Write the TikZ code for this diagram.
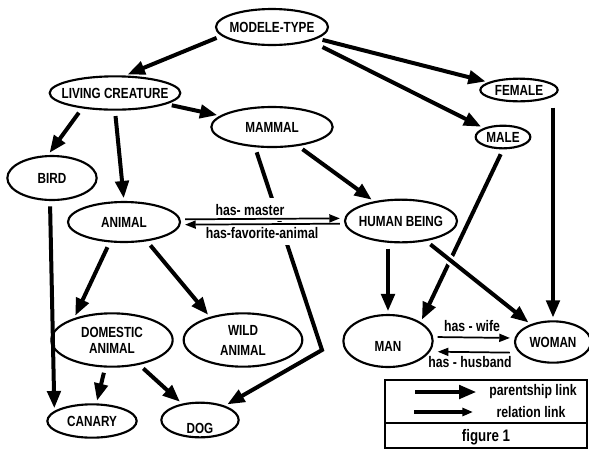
\documentclass[tikz,border=0pt]{standalone}
\usepackage{fontspec}
\setmainfont{Liberation Sans}[FakeStretch=0.8]
\usetikzlibrary{shapes,arrows.meta}
\tikzstyle{concept} = [ellipse, draw, line width=1.6pt, inner xsep=-8pt, inner ysep=0pt, align=center, font=\fontsize{11}{12}\bfseries]
\tikzstyle{parent} = [draw, line width=3pt, -{Triangle[length=13pt,width=10pt]}, shorten >=2pt, shorten <=4pt]
\tikzstyle{relation} = [draw, line width=1.3pt, -{Triangle[length=8pt,width=6pt]}, shorten >=3pt, shorten <=3pt]
\tikzstyle{tag} = [font=\fontsize{11.5}{13}\bfseries, inner sep=1pt]

\begin{document}
\begin{tikzpicture}[x=0.75pt, y=-0.75pt]
\useasboundingbox (0,0) rectangle (589,451);
					\node [concept, minimum width=84pt, minimum height=27pt] (modele) at (272,27) {MODELE-TYPE};
					\node [concept, minimum width=98pt, minimum height=25pt] (living) at (115,93) {LIVING CREATURE};
					\node [concept, minimum width=91pt, minimum height=30pt] (mammal) at (272,127) {MAMMAL};
					\node [concept, minimum width=58pt, minimum height=17pt] (female) at (519,90) {FEMALE};
					\node [concept, minimum width=41pt, minimum height=17pt] (male) at (503,137) {MALE};
					\node [concept, minimum width=67pt, minimum height=33pt] (bird) at (52,178) {BIRD};
					\node [concept, minimum width=84pt, minimum height=30pt] (animal) at (124,222) {ANIMAL};
					\node [concept, minimum width=84pt, minimum height=32pt] (human) at (401,221) {HUMAN BEING};
					\node [concept, minimum width=91pt, minimum height=40pt] (domestic) at (112,340) {DOMESTIC\\ANIMAL};
					\node [concept, minimum width=89pt, minimum height=40pt] (wild) at (243,340) {WILD\\[3pt]ANIMAL};
					\node [concept, minimum width=67pt, minimum height=25pt] (canary) at (92,421) {CANARY};
					\node [concept, minimum width=58pt, minimum height=26pt] (dog) at (200,420) {\raisebox{-10pt}[0pt][0pt]{DOG}};
					\node [concept, minimum width=67pt, minimum height=39pt] (man) at (388,341) {\raisebox{-8pt}[0pt][0pt]{MAN}};
					\node [concept, minimum width=57pt, minimum height=31pt] (woman) at (553,342) {WOMAN};
					\coordinate (bend) at (322,350);
					\path [parent] (modele.190) -- (living.60);
					\path [parent] (modele) -- (female);
					\path [parent, shorten <=10pt] (modele.-20) -- (male.155);
					\path [parent] (living.205) -- (bird.100);
					\path [parent] (living.south) -- (animal.north);
					\path [parent] (living) -- (mammal);
					\path [parent] (mammal) -- (human);
					\path [parent] (mammal.230) -- (bend) -- (dog);
					\path [parent] (bird.265) -- (canary.165);
					\path [parent] (animal.235) -- (domestic.150);
					\path [parent] (animal.-40) -- (wild.145);
					\path [parent] (domestic) -- (canary);
					\path [parent] (domestic) -- (dog);
					\path [parent] (man.north |- human.south) -- (man.north);
					\path [parent] (male.south) -- (man.30);
					\path [parent, preaction={draw=white, line width=7pt, -}] (human) -- (woman);
					\path [parent] (woman.north |- female.south) -- (woman.north);
					\node [tag, fill=white, anchor=south, inner ysep=4.5pt] (master) at (250,221.5) {has- master};
					\node [tag, fill=white, anchor=north, inner ysep=4.5pt] (favorite) at (262,221.5) {has-favorite-animal};
					\path [relation] ([yshift=2pt]animal.east) -- ([yshift=2pt]human.west);
					\path [relation] ([yshift=-2pt]human.west) -- ([yshift=-2pt]animal.east);
					\path [relation] ([yshift=3pt]man.east) -- ([yshift=3pt]woman.west);
					\path [relation] ([yshift=-8pt]woman.west) -- ([yshift=-8pt]man.east);
					\node [tag] (wife) at (472,326) {has - wife};
					\node [tag] (husband) at (470,362) {has - husband};
					\draw [line width=1.6pt] (385,380) rectangle (587,448);
					\draw [line width=1.6pt] (385,423) -- (587,423);
					\coordinate (pa) at (410,392);
					\coordinate (pb) at (479,392);
					\coordinate (ra) at (410,412);
					\coordinate (rb) at (477,412);
					\path [parent] (pa) -- (pb);
					\path [relation, line width=2.4pt] (ra) -- (rb);
					\node [tag] (ptext) at (533,392) {parentship link};
					\node [tag] (rtext) at (531,412) {relation link};
					\node [font=\fontsize{12.5}{14}\bfseries] (fig) at (486,437) {figure 1};
\end{tikzpicture}
\end{document}
